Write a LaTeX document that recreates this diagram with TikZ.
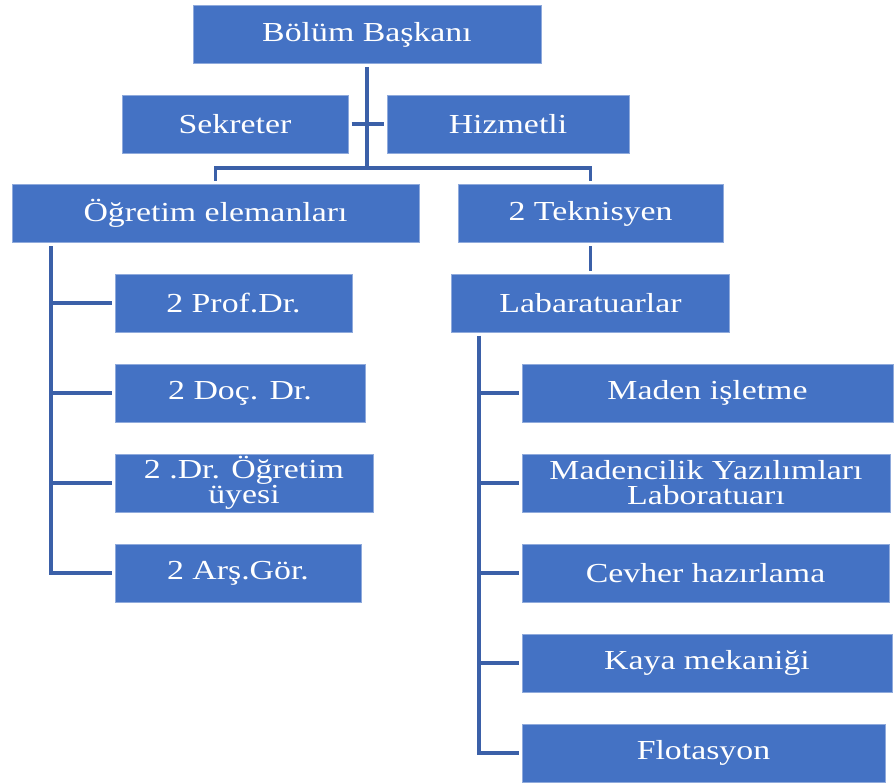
\documentclass[tikz,border=0pt]{standalone}
\usepackage{fontspec}
\setmainfont{Liberation Serif}[FakeStretch=1.23]
\usepackage{tikz}
\usetikzlibrary{positioning}
\definecolor{boxblue}{RGB}{68,114,196}
\definecolor{boxline}{RGB}{143,170,220}
\definecolor{linkblue}{RGB}{59,96,168}

\begin{document}
\begin{tikzpicture}[x=1pt, y=-1pt,
                    main node/.style={rectangle,fill=boxblue,draw=boxline,line width=0.8pt,text=white,
                      minimum height=58pt,inner sep=2pt,outer sep=3.5pt,align=center,
                      font=\fontsize{27.5}{25}\selectfont},
                    link/.style={draw=linkblue,line width=3.8pt}]

   \useasboundingbox (0,0) rectangle (895,784);

   \node[main node, minimum width=348pt] (1) at (367,34.5) {Bölüm Başkanı};
   \node[main node, minimum width=226pt] (2) at (235,124) {Sekreter};
   \node[main node, minimum width=242pt] (3) at (508,124) {Hizmetli};
   \node[main node, minimum width=407pt] (4) at (215.5,213.5) {Öğretim elemanları};
   \node[main node, minimum width=265pt] (5) at (590.5,213.5) {2 Teknisyen};

   \node[main node, minimum width=237pt] (6) at (233.5,303) {2 Prof.Dr.};
   \node[main node, minimum width=250pt] (7) at (240,393) {2 Doç. Dr.};
   \node[main node, minimum width=258pt] (8) at (244,483) {2 .Dr. Öğretim\\üyesi};
   \node[main node, minimum width=246pt] (9) at (238,573) {2 Arş.Gör.};

   \node[main node, minimum width=278pt] (10) at (590.5,303) {Labaratuarlar};
   \node[main node, minimum width=371pt] (11) at (707.5,393) {Maden işletme};
   \node[main node, minimum width=368pt] (12) at (706,483) {Madencilik Yazılımları\\Laboratuarı};
   \node[main node, minimum width=367pt] (13) at (705.5,573) {Cevher hazırlama};
   \node[main node, minimum width=370pt] (14) at (707,663) {Kaya mekaniği};
   \node[main node, minimum width=363pt] (15) at (703.5,753) {Flotasyon};

   \coordinate (j) at (367,168);
   \coordinate (lt) at (51,573);
   \coordinate (rt) at (479,753);

  \path[link]
    (1) -- (j)
    (j) -| (4)
    (j) -| (5)
    (2) -- (3)
    (5) -- (10)

    (4.south -| lt) |- (9)
    (lt |- 6) -- (6)
    (lt |- 7) -- (7)
    (lt |- 8) -- (8)

    (10.south -| rt) |- (15)
    (rt |- 11) -- (11)
    (rt |- 12) -- (12)
    (rt |- 13) -- (13)
    (rt |- 14) -- (14)
       ;

\end{tikzpicture}
\end{document}
